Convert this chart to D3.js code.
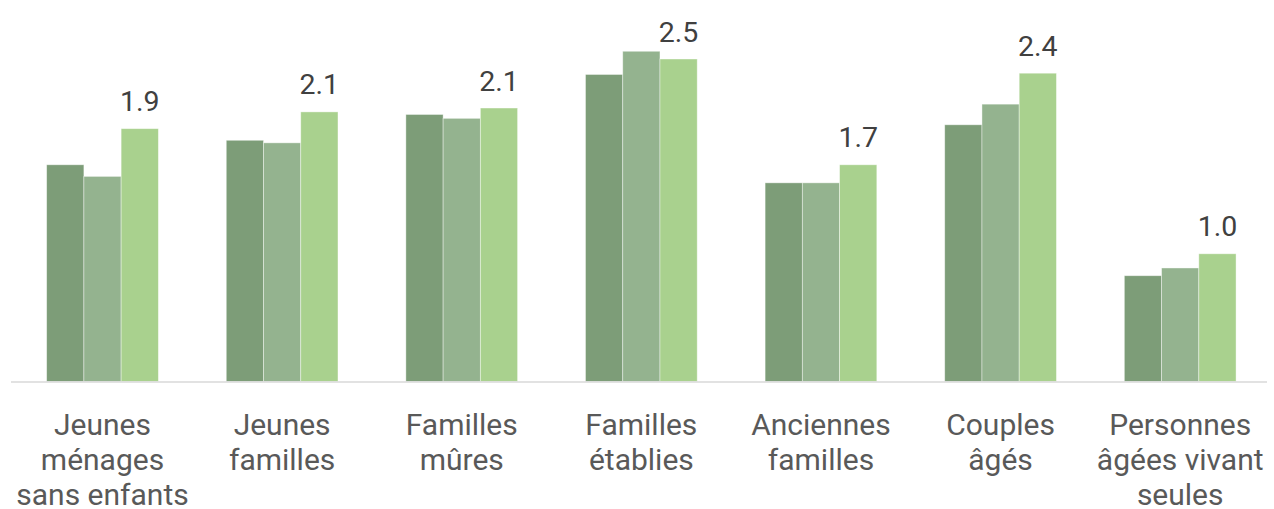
<!DOCTYPE html>
<html>
<head>
<meta charset="utf-8">
<script src="https://cdn.jsdelivr.net/npm/d3@7"></script>
<style>
  body { margin: 0; background: #fff; }
  svg { display: block; font-family: Roboto, "Liberation Sans", sans-serif; }
</style>
</head>
<body>
<div id="viz-container"></div>
<script>
// categories (line breaks as in the original)
const categories = [
    ["Jeunes", "ménages", "sans enfants"],
    ["Jeunes", "familles"],
    ["Familles", "mûres"],
    ["Familles", "établies"],
    ["Anciennes", "familles"],
    ["Couples", "âgés"],
    ["Personnes", "âgées vivant", "seules"]
];

// three series
const serie1 = [1.68, 1.87, 2.07, 2.38, 1.54, 1.99, 0.82];
const serie2 = [1.59, 1.85, 2.04, 2.56, 1.54, 2.15, 0.88];
const serie3 = [1.96, 2.09, 2.12, 2.50, 1.68, 2.39, 0.99];

// labels shown above the last series
const labels3 = ["1.9", "2.1", "2.1", "2.5", "1.7", "2.4", "1.0"];

const seriesNames = ["s1", "s2", "s3"];
const colors = ["#7d9d78", "#94b38f", "#a9d18e"];

const W = 1274, H = 509;
const baseY = 381.5;
const pxPerUnit = 129;

const svg = d3.select("#viz-container")
    .append("svg")
    .attr("width", W)
    .attr("height", H);

// x scales
const x0 = d3.scaleBand()
    .domain(d3.range(categories.length))
    .range([12.7, 1270])
    .paddingInner(0.378)
    .paddingOuter(0.189);

const x1 = d3.scaleBand()
    .domain(seriesNames)
    .range([0, x0.bandwidth()]);

// y scale
const yMax = 3;
const y = d3.scaleLinear()
    .domain([0, yMax])
    .range([baseY, baseY - yMax * pxPerUnit]);

const rows = categories.map((c, i) => ({
    i: i,
    vals: [serie1[i], serie2[i], serie3[i]]
}));

// bars
const groups = svg.selectAll("g.grp")
    .data(rows)
    .enter().append("g")
    .attr("class", "grp")
    .attr("transform", d => `translate(${x0(d.i)},0)`);

groups.selectAll("rect")
    .data(d => d.vals.map((v, k) => ({ k: k, v: v })))
    .enter().append("rect")
    .attr("x", d => x1(seriesNames[d.k]))
    .attr("y", d => y(d.v))
    .attr("width", x1.bandwidth())
    .attr("height", d => baseY - y(d.v))
    .attr("fill", d => colors[d.k])
    .attr("stroke", "#ffffff")
    .attr("stroke-opacity", 0.5)
    .attr("stroke-width", 0.8);

// baseline
svg.append("line")
    .attr("x1", 11)
    .attr("x2", 1267)
    .attr("y1", baseY + 0.5)
    .attr("y2", baseY + 0.5)
    .attr("stroke", "#d9d9d9")
    .attr("stroke-width", 1.5);

// value labels over the third series
svg.selectAll("text.val")
    .data(rows)
    .enter().append("text")
    .attr("class", "val")
    .attr("x", d => x0(d.i) + x1("s3") + x1.bandwidth() / 2)
    .attr("y", d => y(serie3[d.i]) - 17.5)
    .attr("text-anchor", "middle")
    .attr("font-size", "28.5px")
    .attr("fill", "#404040")
    .text((d, i) => labels3[i]);

// category labels
const catG = svg.selectAll("g.cat")
    .data(categories)
    .enter().append("g")
    .attr("class", "cat")
    .attr("transform", (d, i) => `translate(${x0(i) + x0.bandwidth() / 2},0)`);

catG.selectAll("text")
    .data(d => d)
    .enter().append("text")
    .attr("x", 0)
    .attr("y", (d, j) => 434.5 + j * 35)
    .attr("text-anchor", "middle")
    .attr("font-size", "30px")
    .attr("fill", "#595959")
    .text(d => d);
</script>
</body>
</html>
